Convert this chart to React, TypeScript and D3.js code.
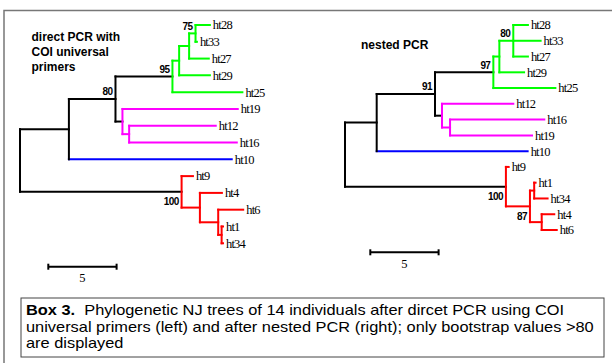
import React from "react";
import * as d3 from "d3";

const W = 612;
const H = 363;

// Árbol izquierdo: PCR directa con cebadores universales COI
const leftTitle = ["direct PCR with", "COI universal", "primers"];
const leftLeaves = ["ht28", "ht33", "ht27", "ht29", "ht25", "ht19", "ht12", "ht16", "ht10", "ht9", "ht4", "ht6", "ht1", "ht34"];
const leftEdges: [string, string, number][] = [
  ["", "root", 0],
  ["root", "A", 3.58],
  ["A", "B", 3.41],
  ["B", "C", 4.17],
  ["C", "F", 0.49],
  ["F", "H", 0.73],
  ["H", "G", 0.47],
  ["G", "ht28", 1.05],
  ["G", "ht33", 0.1],
  ["H", "ht27", 1.44],
  ["F", "ht29", 2.25],
  ["C", "ht25", 5.12],
  ["B", "D", 0.51],
  ["D", "ht19", 8.44],
  ["D", "E", 0.49],
  ["E", "ht12", 6.34],
  ["E", "ht16", 7.88],
  ["A", "ht10", 11.92],
  ["root", "R", 11.83],
  ["R", "ht9", 0.83],
  ["R", "S", 1.34],
  ["S", "ht4", 1.61],
  ["S", "T", 1.34],
  ["T", "ht6", 1.83],
  ["T", "U", 0.25],
  ["U", "ht1", 0.1],
  ["U", "ht34", 0.1],
];
const leftBootstrap: [string, number][] = [["G", 75], ["C", 95], ["B", 80], ["R", 100]];
const leftClades: [string, string][] = [["C", "#00ff00"], ["D", "#ff00ff"], ["ht10", "#0000ff"], ["R", "#ff0000"]];
const leftBelow = ["R"];

// Árbol derecho: PCR anidada
const rightTitle = ["nested PCR"];
const rightLeaves = ["ht28", "ht33", "ht27", "ht29", "ht25", "ht12", "ht16", "ht19", "ht10", "ht9", "ht1", "ht34", "ht4", "ht6"];
const rightEdges: [string, string, number][] = [
  ["", "root", 0],
  ["root", "A", 2.32],
  ["A", "B", 4.27],
  ["B", "C", 4.27],
  ["C", "F", 0.44],
  ["F", "G", 1.02],
  ["G", "ht28", 1.07],
  ["G", "ht33", 2.0],
  ["G", "ht27", 1.07],
  ["F", "ht29", 1.81],
  ["C", "ht25", 4.54],
  ["B", "D", 0.51],
  ["D", "ht12", 5.22],
  ["D", "E", 0.59],
  ["E", "ht16", 6.9],
  ["E", "ht19", 6.0],
  ["A", "ht10", 11.05],
  ["root", "R", 11.78],
  ["R", "ht9", 0.2],
  ["R", "S", 1.76],
  ["S", "T", 0.31],
  ["T", "ht1", 0.1],
  ["T", "ht34", 0.98],
  ["S", "V", 0.86],
  ["V", "ht4", 0.92],
  ["V", "ht6", 1.1],
];
const rightBootstrap: [string, number][] = [["G", 80], ["C", 97], ["B", 91], ["R", 100], ["S", 87]];
const rightClades: [string, string][] = [["C", "#00ff00"], ["D", "#ff00ff"], ["ht10", "#0000ff"], ["R", "#ff0000"]];
const rightBelow = ["R", "S"];

const scaleBarValue = 5;
const unitPx = 13.66;

const captionLines = [
  ["Box 3.", "  Phylogenetic NJ trees of 14 individuals after dircet PCR using COI"],
  ["", "universal primers (left) and after nested PCR (right); only bootstrap values >80"],
  ["", "are displayed"],
];

type Edge = [string, string, number];

function layoutTree(edges: Edge[], leaves: string[], rootX: number, topY: number, step: number) {
  const root: any = d3
    .stratify<Edge>()
    .id((d) => d[1])
    .parentId((d) => d[0])(edges);
  const minLeaf = (n: any) => d3.min(n.leaves(), (l: any) => leaves.indexOf(l.id)) as number;
  root.sort((a: any, b: any) => minLeaf(a) - minLeaf(b));
  const x = d3.scaleLinear().domain([0, scaleBarValue]).range([rootX, rootX + unitPx * scaleBarValue]);
  const y = d3.scaleLinear().domain([0, leaves.length - 1]).range([topY, topY + step * (leaves.length - 1)]);
  root.eachBefore((n: any) => {
    n.len = (n.parent ? n.parent.len : 0) + n.data[2];
    n.px = x(n.len);
  });
  root.eachAfter((n: any) => {
    if (!n.children) n.py = y(leaves.indexOf(n.id));
    else n.py = (n.children[0].py + n.children[n.children.length - 1].py) / 2;
  });
  return { root, x };
}

const TreePanel = ({ edges, leaves, bootstrap, clades, below, rootX, step, title, titleX, titleY, barX, barY }: any) => {
  const { root, x } = layoutTree(edges, leaves, rootX, 25, step);
  const cladeMap = new Map<string, string>(clades);
  const colorOf = (n: any): string => {
    let c = n;
    while (c) {
      if (cladeMap.has(c.id)) return cladeMap.get(c.id)!;
      c = c.parent;
    }
    return "#000";
  };
  const nodes = root.descendants();
  const byId = new Map(nodes.map((n: any) => [n.id, n]));
  const sw = 2;
  const barLen = x(scaleBarValue) - x(0);

  return (
    <g>
      {title.map((t: string, i: number) => (
        <text key={t} x={titleX} y={titleY + i * 15} dy="0.35em" fontFamily="Liberation Sans, Arial" fontWeight="bold" fontSize={12}>
          {t}
        </text>
      ))}
      {/* ramas horizontales */}
      {nodes
        .filter((n: any) => n.parent)
        .map((n: any) => (
          <line
            key={"h" + n.id}
            x1={n.parent.px}
            x2={n.px}
            y1={n.py}
            y2={n.py}
            stroke={n.children ? colorOf(n.parent) : colorOf(n)}
            strokeWidth={sw}
            strokeLinecap="square"
          />
        ))}
      {/* ramas verticales */}
      {nodes
        .filter((n: any) => n.children)
        .map((n: any) => (
          <line
            key={"v" + n.id}
            x1={n.px}
            x2={n.px}
            y1={n.children[0].py}
            y2={n.children[n.children.length - 1].py}
            stroke={colorOf(n)}
            strokeWidth={sw}
            strokeLinecap="square"
          />
        ))}
      {/* etiquetas de hojas */}
      {root.leaves().map((n: any) => (
        <text key={"l" + n.id} x={n.px + 3} y={n.py} dy="0.35em" fontFamily="Liberation Serif, Times New Roman" fontSize={12.5} letterSpacing={-0.8}>
          {n.id}
        </text>
      ))}
      {/* valores bootstrap */}
      {bootstrap.map(([id, v]: [string, number]) => {
        const n: any = byId.get(id);
        const isBelow = below.includes(id);
        return (
          <text
            key={"b" + id}
            x={n.px - 3}
            y={isBelow ? n.py + 10 : n.py - 7}
            dy="0.35em"
            textAnchor="end"
            fontFamily="Liberation Sans, Arial"
            fontWeight="bold"
            fontSize={10}
            letterSpacing={-0.6}
          >
            {v}
          </text>
        );
      })}
      {/* barra de escala */}
      <g stroke="#000" strokeWidth={2}>
        <line x1={barX} x2={barX + barLen} y1={barY} y2={barY} />
        <line x1={barX} x2={barX} y1={barY - 3} y2={barY + 3} />
        <line x1={barX + barLen} x2={barX + barLen} y1={barY - 3} y2={barY + 3} />
      </g>
      <text x={barX + barLen / 2} y={barY + 11} dy="0.35em" textAnchor="middle" fontFamily="Liberation Serif, Times New Roman" fontSize={12.5}>
        {scaleBarValue}
      </text>
    </g>
  );
};

export default function App() {
  return (
    <svg width={W} height={H} style={{ position: "absolute", left: 0, top: 0, background: "#fff" }}>
      <rect x={4} y={10.5} width={W} height={H} fill="none" stroke="#777" strokeWidth={1.5} />
      <TreePanel
        edges={leftEdges}
        leaves={leftLeaves}
        bootstrap={leftBootstrap}
        clades={leftClades}
        below={leftBelow}
        rootX={20}
        step={16.79}
        title={leftTitle}
        titleX={31.5}
        titleY={36.7}
        barX={48.3}
        barY={266.7}
      />
      <TreePanel
        edges={rightEdges}
        leaves={rightLeaves}
        bootstrap={rightBootstrap}
        clades={rightClades}
        below={rightBelow}
        rootX={345}
        step={15.77}
        title={rightTitle}
        titleX={361}
        titleY={45}
        barX={370.3}
        barY={252.3}
      />
      <rect x={21} y={298} width={583} height={59} fill="#fff" stroke="#444" strokeWidth={1} />
      <g transform="translate(26,0) scale(1.13,1)">
        {captionLines.map(([b, t], i) => (
          <text key={i} x={0} y={310 + i * 16.7} dy="0.35em" fontFamily="Liberation Sans, Arial" fontSize={14.5} xmlSpace="preserve">
            {b && <tspan fontWeight="bold">{b}</tspan>}
            <tspan>{t}</tspan>
          </text>
        ))}
      </g>
    </svg>
  );
}
